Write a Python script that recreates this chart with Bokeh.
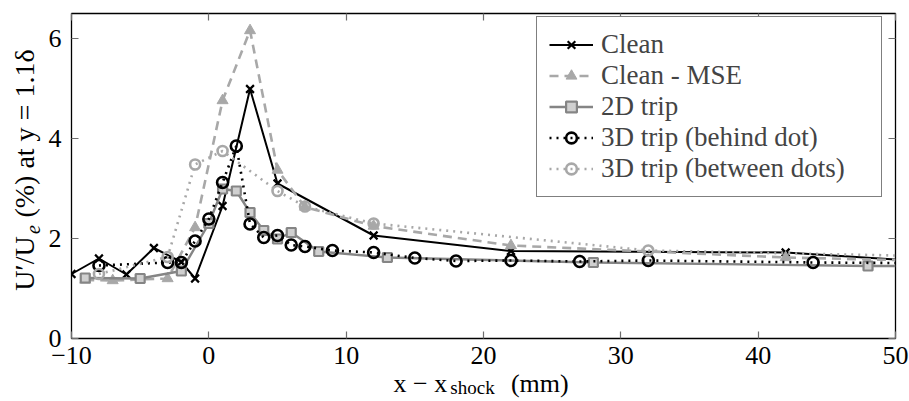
import math
from bokeh.plotting import figure
from bokeh.models import (Range1d, FixedTicker, LinearAxis, Legend, LegendItem,
                          CustomJSTickFormatter)
from bokeh.embed import file_html
from bokeh.resources import INLINE

# ---------------- data ----------------
clean_x = [-10, -8, -6, -4, -2, -1, 1, 3, 5, 12, 22, 42, 50]
clean_y = [1.29, 1.60, 1.28, 1.81, 1.53, 1.20, 2.65, 4.99, 3.10, 2.06, 1.75, 1.72, 1.58]

mse_x = [-9, -7, -3, -1, 1, 3, 5, 7, 12, 22, 42, 50]
mse_y = [1.17, 1.16, 1.20, 2.22, 4.76, 6.16, 3.37, 2.63, 2.25, 1.86, 1.62, 1.57]

trip2d_x = [-9, -5, -2, 0, 1, 2, 3, 4, 5, 6, 8, 13, 28, 48, 50]
trip2d_y = [1.21, 1.20, 1.35, 2.30, 2.99, 2.95, 2.52, 2.16, 1.99, 2.12, 1.74, 1.62, 1.52, 1.45, 1.45]

behind_x = [-8, -3, -2, -1, 0, 1, 2, 3, 4, 5, 6, 7, 9, 12, 15, 18, 22, 27, 32, 44, 50]
behind_y = [1.46, 1.52, 1.52, 1.95, 2.39, 3.12, 3.85, 2.29, 2.02, 2.06, 1.87, 1.84, 1.76,
            1.72, 1.61, 1.55, 1.56, 1.54, 1.56, 1.52, 1.51]

between_x = [-8, -3, -1, 1, 5, 7, 12, 32, 50]
between_y = [1.29, 1.63, 3.48, 3.75, 2.95, 2.64, 2.30, 1.76, 1.66]

x_ticks = [-10, 0, 10, 20, 30, 40, 50]
y_ticks = [0, 2, 4, 6]
series_names = ["Clean", "Clean - MSE", "2D trip", "3D trip (behind dot)", "3D trip (between dots)"]

# axis-title pieces (text only; placed as label-only axes)
xtitle_main = ["x \u2212 x", "(mm)"]
xtitle_sub = ["shock"]
ytitle_main = ["U\u2032/U", "(%) at y = 1.1\u03b4"]
ytitle_sub = ["e"]

FONT = "Liberation Serif"
FS = "26px"
YFS = "28px"
SUBFS = "19px"

p = figure(width=909, height=401, output_backend="svg", toolbar_location=None,
           x_range=Range1d(-10, 50), y_range=Range1d(0, 6.5),
           min_border_left=71, min_border_right=14, min_border_top=13, min_border_bottom=63)
p.grid.visible = False
p.outline_line_color = "black"
p.outline_line_width = 1.3
p.background_fill_color = "white"
p.border_fill_color = "white"

def style_axis(ax, show_labels):
    ax.axis_line_color = None
    ax.major_tick_in = 7
    ax.major_tick_out = 0
    ax.minor_tick_line_color = None
    ax.major_tick_line_color = "#6e6e6e"
    ax.major_tick_line_width = 1.2
    if show_labels:
        ax.major_label_text_font = FONT
        ax.major_label_text_font_size = FS
        ax.major_label_text_color = "black"
    else:
        ax.formatter = CustomJSTickFormatter(code="return ''")

p.xaxis.ticker = FixedTicker(ticks=x_ticks)
p.yaxis.ticker = FixedTicker(ticks=y_ticks)
p.xaxis.major_label_overrides = {-10: "\u221210"}
style_axis(p.xaxis[0], True)
style_axis(p.yaxis[0], True)
p.xaxis.major_label_standoff = 8
p.yaxis.major_label_standoff = 10

top_ax = LinearAxis(ticker=FixedTicker(ticks=x_ticks))
right_ax = LinearAxis(ticker=FixedTicker(ticks=y_ticks))
style_axis(top_ax, False)
style_axis(right_ax, False)
p.add_layout(top_ax, "above")
p.add_layout(right_ax, "right")

# ---------------- axis titles as label-only axes ----------------
def title_axis(positions, texts, size, style, standoff, orientation="horizontal"):
    ax = LinearAxis(ticker=FixedTicker(ticks=positions))
    ax.major_label_overrides = {pos: t for pos, t in zip(positions, texts)}
    ax.axis_line_color = None
    ax.major_tick_line_color = None
    ax.minor_tick_line_color = None
    ax.major_tick_in = 0
    ax.major_tick_out = 0
    ax.major_label_text_font = FONT
    ax.major_label_text_font_size = size
    ax.major_label_text_font_style = style
    ax.major_label_text_color = "black"
    ax.major_label_standoff = standoff
    ax.major_label_orientation = orientation
    return ax

# horizontal pieces: centres in x data units
p.add_layout(title_axis([19.2], xtitle_sub, SUBFS, "normal", 10), "below")
p.add_layout(title_axis([15.4, 24.1], xtitle_main, FS, "normal", -32), "below")
# vertical pieces: centres in y data units
p.add_layout(title_axis([2.18], ytitle_sub, "20px", "italic", 6, "parallel"), "left")
p.add_layout(title_axis([1.50, 4.10], ytitle_main, YFS, "normal", -17, "parallel"), "left")

# ---------------- series ----------------
BLACK = "black"
LIGHT = "#a8a8a8"
MID = "#858585"

l1 = p.line(clean_x, clean_y, line_color=BLACK, line_width=2.0)
s1 = p.scatter(clean_x[:-1], clean_y[:-1], marker="x", size=11, line_color=BLACK, line_width=2.2)

l2 = p.line(mse_x, mse_y, line_color=LIGHT, line_width=2.6, line_dash="9 6")
s2 = p.scatter(mse_x[:-1], mse_y[:-1], marker="triangle", size=11, line_color=LIGHT, fill_color=LIGHT)

l3 = p.line(trip2d_x, trip2d_y, line_color=MID, line_width=2.4)
s3 = p.scatter(trip2d_x[:-1], trip2d_y[:-1], marker="square", size=9, line_color=MID,
               fill_color="#d0d0d0", line_width=2.2)

l4 = p.line(behind_x, behind_y, line_color=BLACK, line_width=2.6, line_dash="2 5")
s4 = p.scatter(behind_x[:-1], behind_y[:-1], marker="circle", size=11, line_color=BLACK,
               fill_color="white", fill_alpha=0, line_width=2.6)

l5 = p.line(between_x, between_y, line_color=LIGHT, line_width=2.6, line_dash="2 5")
s5 = p.scatter(between_x[:-1], between_y[:-1], marker="circle", size=10, line_color=LIGHT,
               fill_color="white", fill_alpha=0, line_width=2.6)

items = [LegendItem(label=n, renderers=r) for n, r in
         zip(series_names, [[l1, s1], [l2, s2], [l3, s3], [l4, s4], [l5, s5]])]
legend = Legend(items=items, location=(465, 141))
legend.label_text_font = FONT
legend.label_text_font_size = "27px"
legend.glyph_width = 44
legend.glyph_height = 27
legend.label_height = 27
legend.label_width = 268
legend.spacing = 0
legend.padding = 12
legend.margin = 0
legend.label_standoff = 8
legend.border_line_color = "black"
legend.border_line_width = 1.2
legend.background_fill_alpha = 1
p.add_layout(legend)

open("out.html", "w").write(file_html(p, INLINE))
